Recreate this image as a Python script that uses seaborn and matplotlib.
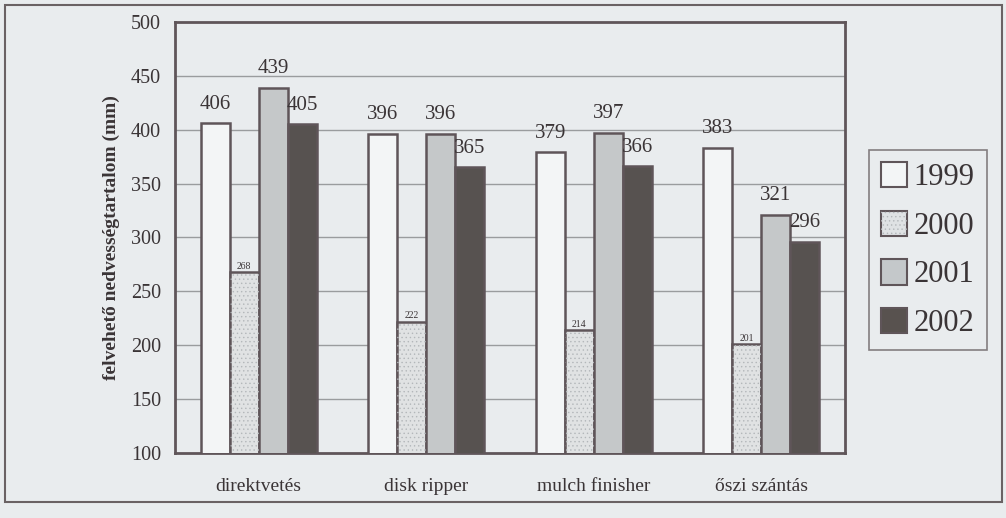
import matplotlib
matplotlib.use("Agg")
import matplotlib.pyplot as plt
from matplotlib.patches import Rectangle, Patch
from matplotlib.legend_handler import HandlerTuple
import seaborn as sns
import pandas as pd

# Data
categories = ["direktvetés", "disk ripper", "mulch finisher", "őszi szántás"]
years = ["1999", "2000", "2001", "2002"]
v1999 = [406, 396, 379, 383]
v2000 = [268, 222, 214, 201]
v2001 = [439, 396, 397, 321]
v2002 = [405, 365, 366, 296]
yticks = [100, 150, 200, 250, 300, 350, 400, 450, 500]

series = {"1999": v1999, "2000": v2000, "2001": v2001, "2002": v2002}
rows = []
for yr in years:
    for cat, val in zip(categories, series[yr]):
        rows.append({"kezelés": cat, "év": yr, "érték": val})
df = pd.DataFrame(rows)

bg = "#e9ecee"
edge = "#5f5559"
ink = "#3a3436"
dots = "#b3b7ba"
colors = {"1999": "#f3f5f6", "2000": "#dfe2e4", "2001": "#c4c8ca", "2002": "#58524f"}

sns.set_theme(style="white")
plt.rcParams["font.family"] = ["Liberation Serif", "DejaVu Serif"]
plt.rcParams["hatch.linewidth"] = 0.5

fig = plt.figure(figsize=(10.06, 5.18), dpi=100, facecolor=bg)
ax = fig.add_axes([175 / 1006, 1 - 453 / 518, 670 / 1006, 431 / 518])
ax.set_facecolor(bg)

sns.barplot(data=df, x="kezelés", y="érték", hue="év", hue_order=years,
            order=categories, palette=colors, width=0.69, gap=0,
            edgecolor=edge, linewidth=1.8, legend=False, ax=ax, zorder=3)

hue_bars = {yr: cont for yr, cont in zip(years, ax.containers)}

# light dotted pattern laid over the 2000 bars
for bar in hue_bars["2000"]:
    ax.add_patch(Rectangle(bar.get_xy(), bar.get_width(), bar.get_height(),
                           facecolor="none", edgecolor=dots, linewidth=0,
                           hatch="....", zorder=3.05))

# value labels
for yr, cont in hue_bars.items():
    small = yr == "2000"
    ax.bar_label(cont, labels=[str(v) for v in series[yr]],
                 padding=1 if small else 7,
                 fontsize=7 if small else 15, color=ink)

ax.set_ylim(100, 500)
ax.set_yticks(yticks)
ax.set_yticklabels([str(t) for t in yticks], fontsize=14.5, color=ink)
ax.set_xlim(-0.5, 3.5)
ax.set_xticks(range(len(categories)))
ax.set_xticklabels(categories, fontsize=14, color=ink)
ax.set_xticks([-0.5, 0.5, 1.5, 2.5, 3.5], minor=True)
ax.tick_params(axis="x", which="major", length=0, pad=18)
ax.tick_params(axis="x", which="minor", length=6, width=1, color="#8a8486", direction="out")
ax.tick_params(axis="y", length=6, width=1, color="#8a8486", direction="out", pad=4)
ax.set_xlabel("")
ax.set_ylabel("felvehető nedvességtartalom (mm)", fontsize=14, fontweight="bold",
              color=ink, labelpad=8)

for t in yticks[1:-1]:
    ax.axhline(t, color="#9a9c9e", lw=1, zorder=1)

for s in ax.spines.values():
    s.set_color(edge)
    s.set_linewidth(2)

handles = []
for yr in years:
    base = Patch(facecolor=colors[yr], edgecolor=edge, linewidth=1.5)
    if yr == "2000":
        handles.append((base, Patch(facecolor="none", edgecolor=dots, linewidth=0, hatch="....")))
    else:
        handles.append(base)
leg = ax.legend(handles, years, loc="center left",
                bbox_to_anchor=(869 / 1006, 1 - 250 / 518), bbox_transform=fig.transFigure,
                fontsize=22, frameon=True, fancybox=False, facecolor=bg, edgecolor="#6a6264",
                handlelength=0.85, handleheight=0.9, handletextpad=0.2,
                labelspacing=0.6, borderpad=0.4, borderaxespad=0,
                handler_map={tuple: HandlerTuple(ndivide=1, pad=0)})
leg.get_frame().set_linewidth(1.2)
for txt in leg.get_texts():
    txt.set_color(ink)

# outer frame around the whole chart
fig.patches.append(Rectangle((5 / 1006, 1 - 502 / 518), 997 / 1006, 497 / 518,
                             transform=fig.transFigure, fill=False,
                             edgecolor="#6a6264", linewidth=1.5))

fig.savefig("out.png", dpi=100, facecolor=bg)
